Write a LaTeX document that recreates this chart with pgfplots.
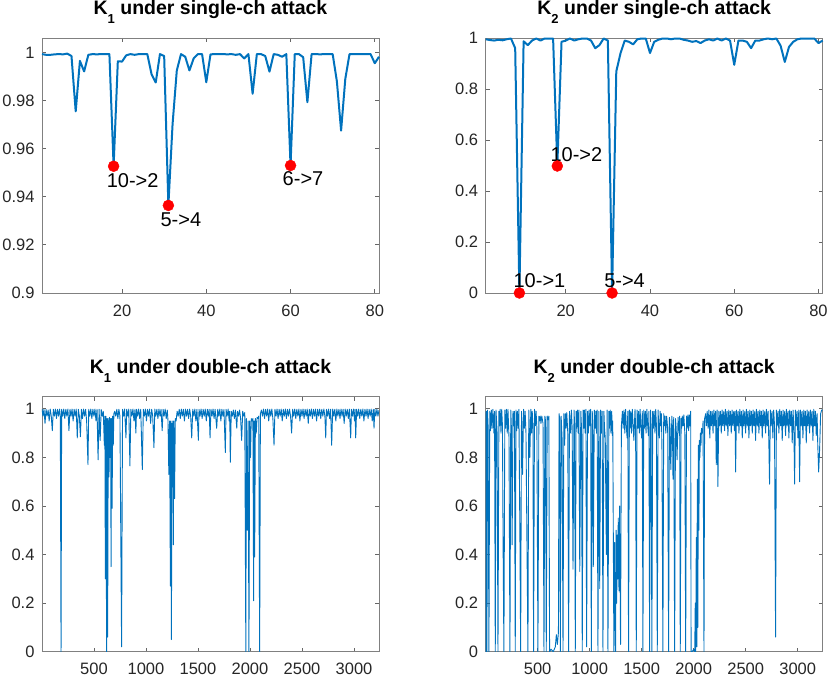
\documentclass[border=0pt]{standalone}
\usepackage{fontspec}
\setmainfont{Liberation Sans}
\usepackage{pgfplots}
\pgfplotsset{compat=1.18}
\definecolor{mblue}{RGB}{0,114,189}
\pgfplotsset{
 mystyle/.style={
  scale only axis, width=337pt, height=255pt,
  axis line style={draw=black!50, line width=0.9pt},
  every tick/.style={draw=black!60, line width=0.8pt},
  tick align=inside, major tick length=4pt,
  ticklabel style={font=\fontsize{16.5}{16.5}\selectfont, text=black!85},
  /pgf/number format/assume math mode=true,
  /pgf/number format/1000 sep={},
  /pgf/number format/fixed,
  /pgf/number format/precision=2,
  scaled ticks=false,
  title style={at={(0.5,1)}, anchor=base, yshift=17pt, font=\fontsize{19.5}{19.5}\selectfont\bfseries},
  xticklabel style={yshift=-8pt},
  yticklabel style={xshift=-4pt},
 },
 toplines/.style={mblue, line width=2pt, line join=round},
 botlines/.style={mblue, line width=0.9pt, line join=round},
 dots/.style={only marks, mark=*, mark size=5.5pt, mark options={fill=red, draw=red}, red},
}
\tikzset{ann/.style={anchor=base west, font=\fontsize{20}{20}\selectfont, inner sep=0pt}}
\newcommand{\sub}[1]{\raisebox{-9pt}{\fontsize{13}{13}\selectfont #1}}
\begin{document}
\begin{tikzpicture}
\path[use as bounding box] (0,0) rectangle (830pt,682pt);
% ---------- top left
\begin{axis}[mystyle, at={(42pt,389pt)}, anchor=south west, clip=false,
  xmin=1, xmax=81, ymin=0.9, ymax=1.006,
  xtick={20,40,60,80}, ytick={0.9,0.92,0.94,0.96,0.98,1},
  title={K\sub{1} under single-ch attack}]
\addplot[toplines] coordinates {
(1,0.9993)(2,0.9990)(3,0.9990)(4,0.9992)(5,0.9993)(6,0.9992)(7,0.9995)(8,0.9985)(9,0.9755)(10,0.9965)
(11,0.9921)(12,0.9990)(13,0.9993)(14,0.9992)(15,0.9993)(16,0.9993)(17,0.9993)(18,0.9527)(19,0.9963)(20,0.9962)
(21,0.9988)(22,0.9993)(23,0.9990)(24,0.9993)(25,0.9993)(26,0.9993)(27,0.9910)(28,0.9875)(29,0.9993)(30,0.9985)
(31,0.9364)(32,0.9703)(33,0.9925)(34,0.9993)(35,0.9982)(36,0.9925)(37,0.9975)(38,0.9993)(39,0.9993)(40,0.9876)
(41,0.9992)(42,0.9993)(43,0.9993)(44,0.9993)(45,0.9992)(46,0.9993)(47,0.9990)(48,0.9993)(49,0.9975)(50,0.9993)
(51,0.9828)(52,0.9993)(53,0.9993)(54,0.9985)(55,0.9920)(56,0.9993)(57,0.9990)(58,0.9982)(59,0.9993)(60,0.9530)
(61,0.9993)(62,0.9993)(63,0.9980)(64,0.9793)(65,0.9993)(66,0.9993)(67,0.9992)(68,0.9993)(69,0.9993)(70,0.9993)
(71,0.9880)(72,0.9675)(73,0.9890)(74,0.9993)(75,0.9993)(76,0.9993)(77,0.9993)(78,0.9993)(79,0.9993)(80,0.9955)
(81,0.9982)};
\addplot[dots] coordinates {(18,0.9527)(31,0.9364)(60,0.9530)};
\node[ann, xshift=-7pt, yshift=-21pt] at (axis cs:18,0.9527) {10->2};
\node[ann, xshift=-8pt, yshift=-21pt] at (axis cs:31,0.9364) {5->4};
\node[ann, xshift=-8pt, yshift=-20pt] at (axis cs:60,0.9530) {6->7};
\end{axis}
% ---------- top right
\begin{axis}[mystyle, at={(485.7pt,389pt)}, anchor=south west, clip=false,
  xmin=1, xmax=81, ymin=0, ymax=1,
  xtick={20,40,60,80}, ytick={0,0.2,0.4,0.6,0.8,1},
  title={K\sub{2} under single-ch attack}]
\addplot[toplines] coordinates {
(1,0.995)(2,0.992)(3,0.990)(4,0.993)(5,0.991)(6,0.995)(7,0.998)(8,0.96)(9,0.0)(10,0.987)
(11,0.972)(12,0.99)(13,0.998)(14,0.99)(15,0.998)(16,0.998)(17,0.998)(18,0.498)(19,0.985)(20,0.99)
(21,0.998)(22,0.99)(23,0.995)(24,0.998)(25,0.998)(26,0.99)(27,0.96)(28,0.972)(29,0.998)(30,0.99)
(31,0.0)(32,0.869)(33,0.94)(34,0.99)(35,0.985)(36,0.975)(37,0.995)(38,0.998)(39,0.998)(40,0.941)
(41,0.985)(42,0.993)(43,0.998)(44,0.998)(45,0.995)(46,0.998)(47,0.998)(48,0.993)(49,0.99)(50,0.985)
(51,0.988)(52,0.98)(53,0.99)(54,0.995)(55,0.99)(56,0.998)(57,0.99)(58,0.998)(59,0.99)(60,0.895)
(61,0.99)(62,0.99)(63,0.985)(64,0.96)(65,0.99)(66,0.99)(67,0.995)(68,0.998)(69,0.995)(70,0.998)
(71,0.97)(72,0.906)(73,0.965)(74,0.985)(75,0.995)(76,0.998)(77,0.998)(78,0.998)(79,0.998)(80,0.98)
(81,0.99)};
\addplot[dots] coordinates {(9,0)(18,0.498)(31,0)};
\node[ann, xshift=-6pt, yshift=5pt] at (axis cs:9,0) {10->1};
\node[ann, xshift=-7pt, yshift=5pt] at (axis cs:18,0.498) {10->2};
\node[ann, xshift=-8pt, yshift=5pt] at (axis cs:31,0) {5->4};
\end{axis}
% ---------- bottom left
\begin{axis}[mystyle, at={(42pt,30.3pt)}, anchor=south west,
  xmin=1, xmax=3240, ymin=0, ymax=1.05,
  xtick={500,1000,1500,2000,2500,3000}, ytick={0,0.2,0.4,0.6,0.8,1},
  title={K\sub{1} under double-ch attack}]
\addplot[botlines] coordinates {
(1,1.0)(10,0.97)(20,0.998)(30,0.94)(40,0.998)(50,0.97)(60,0.995)(70,0.95)(80,0.999)(90,0.97)
(100,0.91)(110,0.998)(120,0.97)(130,0.999)(140,0.96)(150,0.998)(160,0.97)(170,0.999)(177,0.97)(184,0)
(190,0.998)(200,0.97)(210,0.999)(220,0.96)(230,0.998)(240,0.97)(250,0.999)(260,0.91)(270,0.998)(280,0.97)
(290,0.999)(300,0.95)(310,0.998)(320,0.97)(330,0.999)(340,0.88)(350,0.998)(360,0.97)(370,0.885)(380,0.998)
(390,0.96)(400,0.999)(410,0.97)(420,0.998)(430,0.95)(443,0.77)(450,0.998)(460,0.97)(470,0.999)(480,0.96)
(490,0.998)(500,0.97)(510,0.999)(520,0.95)(530,0.998)(540,0.79)(550,0.998)(560,0.87)(570,0.997)(580,0.97)
(590,0.99)(600,0.85)(605,0.97)(610,0.30)(615,0.97)(622,0)(627,0.96)(632,0.06)(638,0.96)(645,0.72)
(650,0.965)(655,0.8)(660,0.96)(665,0.35)(670,0.96)(675,0.59)(680,0.97)(686,0.85)(692,0.98)(700,0.99)
(710,0.97)(720,0.998)(730,0.96)(740,0.998)(750,0.97)(766,0.02)(775,0.998)(785,0.97)(795,0.999)(808,0.88)
(815,0.998)(825,0.97)(835,0.999)(846,0.765)(855,0.998)(865,0.97)(875,0.999)(885,0.95)(895,0.998)(903,0.9)
(910,0.998)(920,0.97)(930,0.999)(940,0.96)(950,0.998)(965,0.75)(975,0.998)(985,0.97)(995,0.999)(1005,0.95)
(1015,0.998)(1025,0.97)(1035,0.999)(1045,0.94)(1055,0.998)(1065,0.97)(1077,0.84)(1085,0.999)(1095,0.97)(1105,0.998)
(1115,0.96)(1125,0.999)(1135,0.97)(1145,0.998)(1156,0.91)(1165,0.998)(1175,0.97)(1185,0.999)(1195,0.96)(1205,0.995)
(1212,0.95)(1220,0.73)(1227,0.95)(1235,0.27)(1240,0.95)(1245,0.05)(1250,0.94)(1255,0.8)(1259,0.95)(1263,0.44)
(1268,0.95)(1275,0.63)(1282,0.96)(1290,0.95)(1300,0.99)(1310,0.97)(1320,0.998)(1330,0.96)(1340,0.999)(1350,0.97)
(1360,0.998)(1370,0.95)(1380,0.999)(1390,0.97)(1400,0.998)(1410,0.96)(1420,0.999)(1430,0.97)(1440,0.88)(1450,0.998)
(1460,0.97)(1470,0.999)(1480,0.95)(1490,0.998)(1504,0.87)(1510,0.998)(1520,0.97)(1530,0.999)(1540,0.96)(1550,0.998)
(1560,0.97)(1570,0.999)(1580,0.95)(1590,0.998)(1600,0.97)(1608,0.998)(1616,0.88)(1625,0.998)(1635,0.97)(1645,0.999)
(1655,0.96)(1665,0.998)(1680,0.92)(1690,0.998)(1700,0.97)(1710,0.999)(1720,0.95)(1730,0.998)(1740,0.97)(1750,0.997)
(1763,0.82)(1770,0.998)(1780,0.97)(1790,0.999)(1800,0.95)(1805,0.99)(1811,0.78)(1820,0.99)(1830,0.97)(1840,0.995)
(1850,0.96)(1860,0.995)(1873,0.92)(1880,0.99)(1890,0.97)(1900,0.995)(1910,0.96)(1920,0.87)(1930,0.99)(1940,0.97)
(1950,0.985)(1960,0)(1966,0.96)(1975,0.5)(1982,0.95)(1990,0)(1997,0.95)(2005,0.8)(2012,0.96)(2020,0.95)
(2028,0.96)(2035,0.21)(2040,0.95)(2045,0.39)(2052,0.96)(2060,0.9)(2068,0.965)(2076,0.96)(2084,0.97)(2093,0)
(2100,0.98)(2110,0.995)(2120,0.97)(2130,0.999)(2140,0.96)(2150,0.998)(2160,0.97)(2170,0.999)(2180,0.95)(2190,0.998)
(2200,0.97)(2210,0.999)(2220,0.96)(2231,0.85)(2240,0.998)(2250,0.97)(2260,0.999)(2270,0.96)(2280,0.998)(2290,0.97)
(2300,0.999)(2310,0.95)(2320,0.998)(2330,0.97)(2340,0.999)(2350,0.96)(2360,0.998)(2370,0.97)(2380,0.999)(2390,0.97)
(2400,0.9)(2410,0.998)(2420,0.97)(2430,0.999)(2440,0.96)(2450,0.998)(2460,0.97)(2470,0.999)(2480,0.95)(2490,0.998)
(2500,0.97)(2510,0.999)(2520,0.96)(2530,0.998)(2540,0.97)(2550,0.999)(2560,0.94)(2570,0.998)(2580,0.97)(2590,0.999)
(2600,0.96)(2610,0.998)(2620,0.97)(2630,0.999)(2640,0.95)(2650,0.998)(2660,0.97)(2670,0.999)(2680,0.96)(2690,0.998)
(2700,0.97)(2710,0.999)(2720,0.97)(2728,0.88)(2735,0.998)(2745,0.97)(2755,0.999)(2765,0.96)(2775,0.998)(2785,0.85)
(2795,0.999)(2805,0.97)(2815,0.998)(2825,0.95)(2835,0.999)(2845,0.97)(2855,0.998)(2865,0.96)(2875,0.999)(2885,0.97)
(2895,0.998)(2905,0.94)(2915,0.999)(2925,0.97)(2935,0.998)(2945,0.96)(2955,0.999)(2968,0.88)(2975,0.998)(2985,0.97)
(2995,0.999)(3005,0.95)(3010,0.998)(3016,0.88)(3025,0.998)(3035,0.97)(3045,0.999)(3055,0.96)(3065,0.998)(3075,0.97)
(3085,0.999)(3095,0.95)(3105,0.998)(3115,0.97)(3125,0.999)(3135,0.96)(3145,0.998)(3155,0.97)(3165,0.999)(3175,0.95)
(3185,0.998)(3192,0.92)(3200,0.998)(3210,0.97)(3220,0.998)(3230,0.97)(3240,0.995)};
\end{axis}
% ---------- bottom right
\begin{axis}[mystyle, at={(485.7pt,30.3pt)}, anchor=south west,
  xmin=1, xmax=3240, ymin=0, ymax=1.05,
  xtick={500,1000,1500,2000,2500,3000}, ytick={0,0.2,0.4,0.6,0.8,1},
  title={K\sub{2} under double-ch attack}]
\addplot[botlines] coordinates {
(1,0.99)(5,0)(10,0.99)(13,0)(18,0.995)(24,0.93)(32,0)(40,0.99)(47,0.91)(55,0.995)
(62,0.92)(70,0.998)(80,0.9)(86,0.99)(93,0)(100,0.995)(110,0.91)(119,0)(128,0.99)(134,0.93)
(140,0.998)(148,0.9)(155,0.998)(162,0.93)(168,0.45)(176,0)(185,0.995)(192,0.92)(200,0.998)(208,0.9)
(215,0.998)(225,0.88)(234,0)(242,0.995)(248,0.92)(255,0.44)(263,0.99)(270,0.93)(277,0.99)(285,0)
(292,0.995)(298,0.91)(305,0.99)(312,0.92)(320,0.998)(330,0.46)(337,0)(345,0.99)(350,0.92)(355,0.73)
(365,0.998)(372,0.92)(380,0.99)(388,0.9)(395,0.57)(407,0)(415,0.995)(420,0.92)(425,0.8)(435,0.998)
(442,0.9)(448,0.99)(455,0.93)(461,0)(470,0.998)(478,0.93)(485,0.99)(493,0.92)(503,0)(512,0.97)
(518,0.95)(525,0.97)(532,0.94)(540,0.97)(552,0.94)(561,0)(570,0.97)(576,0.95)(583,0)(592,0.97)
(600,0.955)(608,0.97)(615,0)(630,0.01)(650,0)(670,0.02)(680,0.07)(690,0.03)(700,0.08)(706,0.98)
(712,0.96)(718,0)(726,0.97)(735,0.88)(744,0)(752,0.98)(760,0.85)(766,0.98)(773,0.92)(780,0.985)
(790,0.9)(798,0)(806,0.99)(815,0.9)(825,0.995)(832,0.92)(840,0.34)(850,0.995)(856,0.93)(862,0)
(870,0.99)(876,0.92)(883,0.995)(890,0.9)(897,0.995)(905,0.33)(915,0.99)(922,0.92)(929,0)(937,0.995)
(944,0.92)(950,0.995)(957,0.9)(964,0.998)(971,0.02)(980,0.99)(988,0.9)(995,0.995)(1003,0.93)(1010,0.998)
(1016,0)(1025,0.99)(1030,0.93)(1035,0.35)(1045,0.995)(1052,0.92)(1060,0.99)(1066,0.9)(1072,0.995)(1080,0)
(1088,0.99)(1097,0.26)(1105,0.995)(1112,0.9)(1120,0.99)(1128,0)(1137,0.99)(1143,0.92)(1150,0.88)(1161,0.4)
(1168,0.995)(1176,0)(1185,0.99)(1190,0.92)(1198,0.995)(1205,0.9)(1212,0.99)(1218,0.89)(1222,0.95)(1233,0)
(1240,0.45)(1245,0.1)(1249,0)(1255,0.5)(1260,0.2)(1265,0.48)(1270,0.3)(1275,0.55)(1282,0.25)(1288,0.6)
(1297,0.03)(1305,0.93)(1315,0.99)(1322,0.92)(1330,0.995)(1338,0.9)(1345,0.998)(1352,0.93)(1360,0.88)(1367,0.99)
(1374,0)(1382,0.995)(1388,0.92)(1395,0.99)(1402,0.9)(1410,0.998)(1418,0.93)(1425,0.87)(1436,0.998)(1442,0.92)
(1448,0)(1456,0.995)(1463,0.92)(1470,0.99)(1478,0.9)(1485,0.998)(1492,0.93)(1500,0.88)(1506,0.99)(1512,0)
(1520,0.995)(1527,0.92)(1535,0.99)(1542,0.9)(1550,0.998)(1558,0.93)(1565,0.89)(1570,0.99)(1576,0)(1585,0.995)
(1591,0.93)(1598,0)(1606,0.99)(1613,0.92)(1620,0.99)(1628,0.9)(1635,0.998)(1642,0.93)(1650,0)(1658,0.995)
(1664,0.92)(1670,0.88)(1678,0.99)(1685,0.93)(1690,0.98)(1695,0.83)(1704,0)(1712,0.98)(1718,0.93)(1725,0.97)
(1732,0.9)(1740,0.97)(1750,0.92)(1759,0)(1767,0.965)(1773,0.92)(1780,0.75)(1790,0.97)(1796,0.92)(1801,0.71)
(1808,0.965)(1817,0)(1825,0.96)(1832,0.92)(1840,0.79)(1850,0.965)(1855,0.93)(1860,0.9)(1865,0.97)(1871,0)
(1879,0.96)(1885,0.92)(1890,0.97)(1898,0.93)(1905,0.975)(1915,0.9)(1923,0)(1931,0.97)(1938,0.92)(1945,0.975)
(1952,0.91)(1958,0.975)(1965,0.93)(1971,0.99)(1975,0)(1985,0)(2000,0.01)(2010,0)(2015,0.2)(2020,0)
(2025,0.47)(2030,0.02)(2035,0.71)(2040,0.1)(2045,0.85)(2050,0.5)(2055,0.87)(2060,0.8)(2065,0.9)(2070,0.85)
(2075,0.92)(2085,0.9)(2090,0.95)(2099,0)(2105,0.96)(2115,0.98)(2122,0.93)(2130,0.99)(2138,0.92)(2146,0.995)
(2155,0.88)(2162,0.99)(2170,0.93)(2178,0.99)(2186,0.9)(2194,0.995)(2202,0.93)(2210,0.99)(2217,0.77)(2225,0.995)
(2233,0.68)(2241,0.99)(2249,0.93)(2257,0.99)(2265,0.9)(2273,0.995)(2281,0.93)(2289,0.99)(2297,0.91)(2305,0.998)
(2313,0.93)(2321,0.99)(2329,0.89)(2337,0.995)(2345,0.93)(2353,0.99)(2361,0.9)(2369,0.995)(2377,0.93)(2385,0.99)
(2392,0.91)(2397,0.99)(2403,0.74)(2411,0.995)(2419,0.93)(2427,0.99)(2435,0.9)(2443,0.998)(2451,0.93)(2459,0.99)
(2467,0.88)(2475,0.995)(2483,0.93)(2491,0.99)(2499,0.9)(2507,0.998)(2515,0.93)(2523,0.99)(2531,0.88)(2539,0.995)
(2547,0.93)(2555,0.99)(2563,0.9)(2571,0.995)(2579,0.93)(2587,0.99)(2595,0.87)(2603,0.998)(2611,0.93)(2619,0.99)
(2627,0.9)(2635,0.995)(2643,0.93)(2651,0.99)(2659,0.88)(2667,0.995)(2675,0.93)(2683,0.99)(2691,0.9)(2699,0.998)
(2707,0.93)(2715,0.99)(2722,0.87)(2729,0.69)(2737,0.995)(2745,0.93)(2753,0.99)(2761,0.88)(2769,0.995)(2777,0.93)
(2787,0.06)(2795,0.995)(2803,0.93)(2811,0.99)(2819,0.9)(2827,0.998)(2835,0.93)(2843,0.99)(2851,0.87)(2859,0.995)
(2867,0.93)(2875,0.99)(2883,0.89)(2891,0.998)(2899,0.93)(2907,0.99)(2915,0.88)(2923,0.995)(2931,0.93)(2939,0.99)
(2947,0.86)(2955,0.995)(2963,0.92)(2970,0.69)(2978,0.995)(2986,0.93)(2994,0.99)(3002,0.88)(3010,0.995)(3018,0.70)
(3026,0.995)(3034,0.93)(3042,0.99)(3050,0.88)(3058,0.995)(3066,0.93)(3074,0.99)(3082,0.86)(3090,0.995)(3098,0.93)
(3106,0.99)(3114,0.9)(3122,0.995)(3130,0.93)(3138,0.99)(3146,0.87)(3154,0.998)(3162,0.93)(3170,0.99)(3178,0.89)
(3186,0.98)(3192,0.86)(3201,0.74)(3210,0.83)(3220,0.98)(3230,0.995)(3240,0.995)};
\end{axis}
\end{tikzpicture}
\end{document}
